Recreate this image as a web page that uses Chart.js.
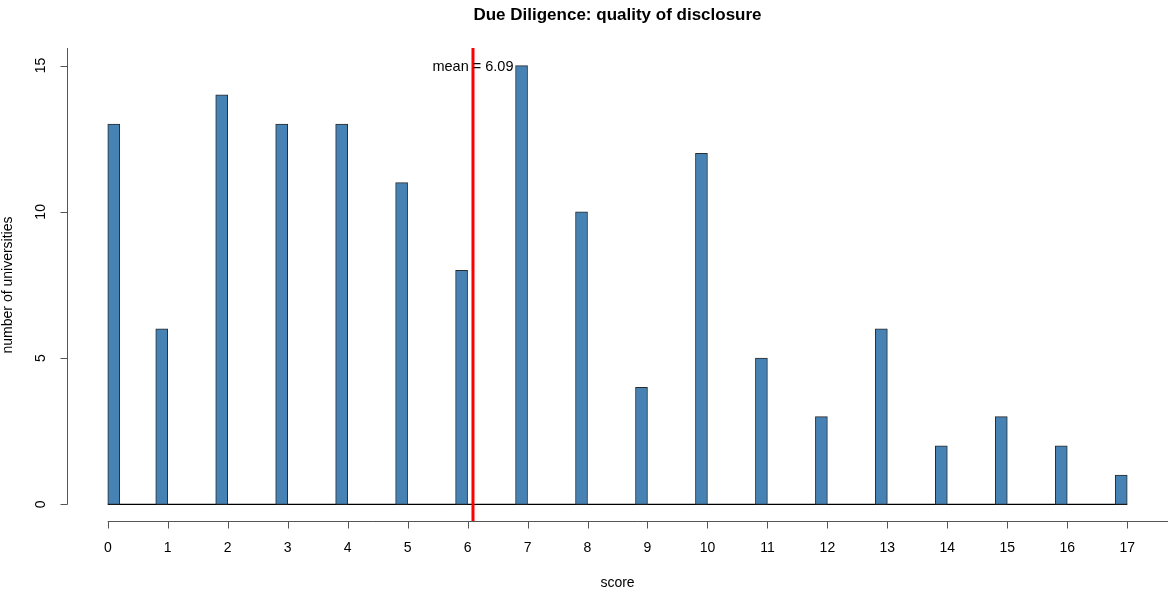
<!DOCTYPE html>
<html>
<head>
<meta charset="utf-8">
<script src="https://cdn.jsdelivr.net/npm/chart.js@4"></script>
<style>
  html, body { margin: 0; padding: 0; background: #fff; }
  #wrap { width: 1168px; height: 594px; }
</style>
</head>
<body>
<div id="wrap"><canvas id="chart" width="1168" height="594"></canvas></div>
<script>
// Histogram data: score -> number of universities
const scores = [0, 1, 2, 3, 4, 5, 6, 7, 8, 9, 10, 11, 12, 13, 14, 15, 16, 17];
const counts = [13, 6, 14, 13, 13, 11, 8, 15, 10, 4, 12, 5, 3, 6, 2, 3, 2, 1];
const xTicks = [0, 1, 2, 3, 4, 5, 6, 7, 8, 9, 10, 11, 12, 13, 14, 15, 16, 17];
const yTicks = [0, 5, 10, 15];
const meanScore = 6.09;
const binWidth = 0.2;

const FONT = '"Liberation Sans", Arial, Helvetica, sans-serif';

// bins are (k-0.2, k], the first one [0, 0.2]
const barPoints = scores.map((s, i) => ({
    x: s === 0 ? s + binWidth / 2 : s - binWidth / 2,
    y: counts[i]
}));

// Draws R-style detached axes, tick labels and titles
const rAxesPlugin = {
    id: 'rAxes',
    afterDraw(chart) {
        const ctx = chart.ctx;
        const xs = chart.scales.x;
        const ys = chart.scales.y;
        const area = chart.chartArea;
        ctx.save();

        // x axis
        const xAxisY = area.bottom - 0.5;
        ctx.strokeStyle = '#555';
        ctx.lineWidth = 1;
        ctx.beginPath();
        ctx.moveTo(xs.getPixelForValue(xTicks[0]), xAxisY);
        ctx.lineTo(area.right, xAxisY);
        xTicks.forEach(t => {
            const px = Math.round(xs.getPixelForValue(t)) + 0.5;
            ctx.moveTo(px, xAxisY);
            ctx.lineTo(px, xAxisY + 7);
        });
        ctx.stroke();

        ctx.fillStyle = '#000';
        ctx.font = '14px ' + FONT;
        ctx.textAlign = 'center';
        ctx.textBaseline = 'middle';
        xTicks.forEach(t => {
            ctx.fillText(String(t), xs.getPixelForValue(t), 548);
        });

        // y axis
        const yAxisX = area.left + 0.5;
        ctx.beginPath();
        ctx.moveTo(yAxisX, ys.getPixelForValue(yTicks[0]));
        ctx.lineTo(yAxisX, area.top);
        yTicks.forEach(t => {
            const py = Math.round(ys.getPixelForValue(t)) + 0.5;
            ctx.moveTo(yAxisX, py);
            ctx.lineTo(yAxisX - 7, py);
        });
        ctx.stroke();

        yTicks.forEach(t => {
            ctx.save();
            ctx.translate(41, ys.getPixelForValue(t));
            ctx.rotate(-Math.PI / 2);
            ctx.fillText(String(t), 0, 0);
            ctx.restore();
        });

        // axis titles
        ctx.fillText('score', (area.left + area.right) / 2, 583);
        ctx.save();
        ctx.translate(8, (area.top + area.bottom) / 2);
        ctx.rotate(-Math.PI / 2);
        ctx.fillText('number of universities', 0, 0);
        ctx.restore();

        // mean label
        ctx.font = '14.5px ' + FONT;
        ctx.fillText('mean = ' + meanScore.toFixed(2), xs.getPixelForValue(meanScore), ys.getPixelForValue(15) + 1);

        // main title
        ctx.font = 'bold 17px ' + FONT;
        ctx.fillText('Due Diligence: quality of disclosure', (area.left + area.right) / 2, 15);

        ctx.restore();
    }
};

new Chart(document.getElementById('chart'), {
    type: 'bar',
    data: {
        datasets: [
            {
                type: 'line',
                label: 'mean',
                data: [{ x: meanScore, y: -0.6 }, { x: meanScore, y: 15.6 }],
                borderColor: '#ff0000',
                borderWidth: 3,
                pointRadius: 0,
                order: 0
            },
            {
                type: 'bar',
                label: 'number of universities',
                data: barPoints,
                backgroundColor: '#4682b4',
                borderColor: '#2b2b2b',
                borderWidth: 1,
                borderSkipped: false,
                barThickness: 12,
                order: 1
            },
            {
                type: 'line',
                label: 'baseline',
                data: [{ x: xTicks[0], y: 0 }, { x: xTicks[xTicks.length - 1], y: 0 }],
                borderColor: '#000',
                borderWidth: 1.2,
                pointRadius: 0,
                order: 2
            }
        ]
    },
    options: {
        responsive: false,
        animation: false,
        layout: {
            padding: { left: 67, right: 0, top: 48, bottom: 72 }
        },
        plugins: {
            legend: { display: false },
            tooltip: { enabled: false },
            title: { display: false }
        },
        scales: {
            x: {
                type: 'linear',
                min: -0.68,
                max: 17.68,
                offset: false,
                display: false
            },
            y: {
                type: 'linear',
                min: -0.6,
                max: 15.6,
                display: false
            }
        }
    },
    plugins: [rAxesPlugin]
});
</script>
</body>
</html>
